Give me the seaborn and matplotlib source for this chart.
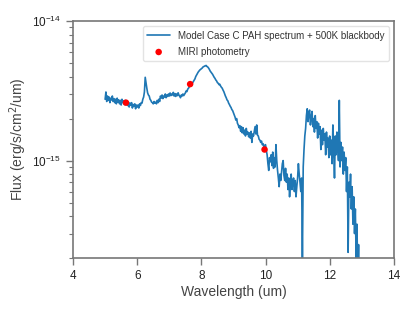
import seaborn as sns
import pandas as pd
import numpy as np
import matplotlib
matplotlib.use("Agg")
import matplotlib.pyplot as plt
from matplotlib.ticker import FixedLocator, NullFormatter, LogFormatterSciNotation

# spectrum, flux in units of 1e-15 erg/s/cm2/um, sampled every 0.025 um from 5.0 to 13.0
wave_start = 5.0
wave_step = 0.025
flux_e15 = [
    2.75, 3.1, 2.65, 2.9, 2.7, 2.85, 2.6, 2.8, 2.72, 2.9, 2.65, 2.78, 2.6, 2.75, 2.55, 2.8, 2.62, 2.72, 2.55, 2.7,   # 5.0
    2.5, 2.75, 2.6, 2.68, 2.52, 2.7, 2.58, 2.65, 2.48, 2.62, 2.42, 2.58, 2.5, 2.6, 2.38, 2.52, 2.45, 2.55, 2.35, 2.5,  # 5.5
    2.42, 2.5, 2.38, 2.55, 2.48, 2.6, 2.58, 2.75, 2.85, 3.1, 3.95, 3.6, 3.3, 3.05, 2.95, 2.9, 2.75, 2.7, 2.62, 2.6,  # 6.0
    2.55, 2.65, 2.58, 2.62, 2.55, 2.7, 2.6, 2.75, 2.65, 2.9, 2.8, 2.95, 2.78, 2.9, 2.85, 3.0, 2.82, 2.95, 2.88, 3.0,  # 6.5
    2.9, 3.05, 2.92, 3.0, 2.95, 3.08, 2.9, 3.02, 2.88, 3.0, 2.92, 3.06, 2.95, 2.88, 2.82, 2.95, 2.9, 3.0, 2.92, 2.98,  # 7.0
    3.05, 3.15, 3.12, 3.25, 3.3, 3.38, 3.42, 3.5, 3.55, 3.6, 3.68, 3.75, 3.85, 4.0, 4.1, 4.2, 4.3, 4.38, 4.45, 4.5,  # 7.5
    4.55, 4.6, 4.68, 4.72, 4.75, 4.78, 4.8, 4.72, 4.68, 4.6, 4.5, 4.38, 4.3, 4.22, 4.15, 4.05, 3.95, 3.88, 3.78, 3.72,  # 8.0
    3.62, 3.58, 3.5, 3.52, 3.42, 3.35, 3.3, 3.2, 3.12, 3.0, 2.9, 2.82, 2.72, 2.68, 2.58, 2.52, 2.45, 2.4, 2.32, 2.28,  # 8.5
    2.2, 2.12, 2.05, 1.95, 2.0, 1.85, 1.8, 1.72, 1.78, 1.62, 1.75, 1.58, 1.72, 1.55, 1.65, 1.5, 1.7, 1.55, 1.6, 1.48,  # 9.0
    1.58, 1.45, 1.62, 1.35, 1.55, 1.5, 1.62, 1.75, 1.55, 1.8, 1.52, 1.5, 1.42, 1.4, 1.35, 1.38, 1.3, 1.32, 1.25, 1.28,  # 9.5
    1.3, 1.18, 1.1, 0.95, 0.85, 1.05, 0.98, 1.1, 0.92, 1.15, 0.88, 1.05, 0.9, 1.3, 1.0, 0.85, 0.75, 0.65, 0.8, 0.72,  # 10.0
    0.82, 0.95, 1.0, 0.78, 0.72, 0.88, 0.7, 0.8, 0.62, 0.75, 0.55, 0.68, 0.8, 0.62, 0.7, 0.75, 0.6, 0.72, 0.55, 0.65,  # 10.5
    0.75, 0.95, 0.8, 0.7, 0.6, 0.75, 0.19, 0.9, 1.2, 1.5, 1.7, 2.1, 2.35, 1.9, 2.2, 2.3, 1.8, 2.05, 2.25, 1.75,  # 11.0
    2.0, 1.6, 2.1, 1.7, 1.9, 1.45, 1.85, 1.55, 1.75, 1.2, 1.65, 1.3, 1.7, 1.4, 1.55, 1.1, 1.6, 1.25, 1.45, 1.05,  # 11.5
    1.5, 1.1, 1.4, 0.95, 1.8, 1.2, 0.75, 1.5, 1.1, 1.6, 1.3, 1.0, 2.7, 0.9, 1.35, 1.0, 1.25, 0.8, 1.15, 0.85,  # 12.0
    1.05, 0.6, 0.9, 0.22, 0.7, 0.55, 0.8, 0.45, 0.65, 0.35, 0.55, 0.3, 0.45, 0.2, 0.35, 0.15, 0.25, 0.12, 0.18, 0.1,  # 12.5
    0.1,  # 13.0
]

phot_wave = [5.65, 7.65, 9.97]
phot_flux_e15 = [2.6, 3.53, 1.2]

y_major = [1e-15, 1e-14]
y_minor = [2e-16, 3e-16, 4e-16, 5e-16, 6e-16, 7e-16, 8e-16, 9e-16,
           2e-15, 3e-15, 4e-15, 5e-15, 6e-15, 7e-15, 8e-15, 9e-15]

wave = wave_start + wave_step * np.arange(len(flux_e15))
spec = pd.DataFrame({"wave": wave, "flux": np.array(flux_e15) * 1e-15})
phot = pd.DataFrame({"wave": phot_wave, "flux": np.array(phot_flux_e15) * 1e-15})

sns.set_style("ticks")
plt.rcParams["font.family"] = ["Liberation Sans", "DejaVu Sans"]

fig = plt.figure(figsize=(4.15, 3.11), dpi=100)
ax = fig.add_axes([0.176, 0.170, 0.773, 0.7625])

sns.lineplot(data=spec, x="wave", y="flux", ax=ax, color="#1f77b4", linewidth=1.2,
             label="Model Case C PAH spectrum + 500K blackbody")
sns.scatterplot(data=phot, x="wave", y="flux", ax=ax, color="red", s=22, edgecolor="none",
                label="MIRI photometry", zorder=3)

ax.set_yscale("log")
ax.set_xlim(4, 14)
ax.set_ylim(2e-16, 1e-14)
ax.set_xticks([4, 6, 8, 10, 12, 14])
ax.yaxis.set_major_locator(FixedLocator(y_major))
ax.yaxis.set_major_formatter(LogFormatterSciNotation())
ax.yaxis.set_minor_locator(FixedLocator(y_minor))
ax.yaxis.set_minor_formatter(NullFormatter())

ax.set_xlabel("Wavelength (um)", fontsize=10, color="#444444", labelpad=2)
ax.set_ylabel("Flux (erg/s/cm$^2$/um)", fontsize=10, color="#444444", labelpad=2)
ax.tick_params(axis="both", which="major", labelsize=8.5, length=5, width=1,
               color="#777777", labelcolor="#222222")
ax.tick_params(axis="y", which="minor", left=True, labelleft=False, length=3, width=0.8,
               color="#777777")
ax.tick_params(axis="x", which="minor", bottom=False, labelbottom=False)
for sp in ax.spines.values():
    sp.set_color("#777777")
    sp.set_linewidth(1.2)

leg = ax.legend(loc="upper right", fontsize=7, frameon=True, handlelength=2.3,
                handletextpad=0.8, borderpad=0.5, labelspacing=0.6)
leg.get_frame().set_edgecolor("#dddddd")
for t in leg.get_texts():
    t.set_color("#333333")

fig.savefig("out.png", dpi=100)
